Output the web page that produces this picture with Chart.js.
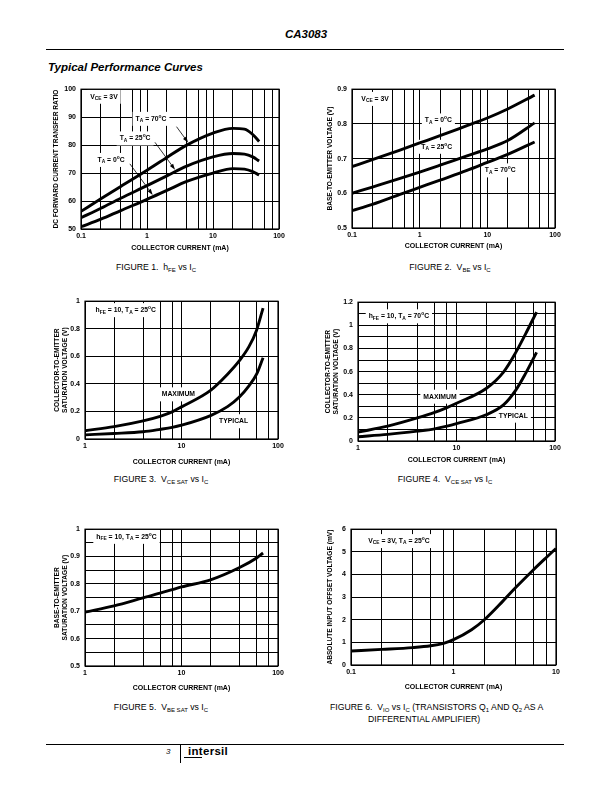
<!DOCTYPE html>
<html>
<head>
<meta charset="utf-8">
<title>CA3083 Typical Performance Curves</title>
<script src="https://cdn.jsdelivr.net/npm/chart.js@4.4.1/dist/chart.umd.min.js"></script>
<style>
  html, body { margin: 0; padding: 0; background: #fff; }
  #page { position: relative; width: 612px; height: 792px; overflow: hidden;
          font-family: "Liberation Sans", Arial, sans-serif; color: #000; }
  #page canvas { position: absolute; }
  .txt { position: absolute; white-space: nowrap; line-height: 12px; }
  .rule { position: absolute; background: #000; }
  .cap { font-size: 8.7px; color: #000; }
  .cap sub { font-size: 6px; vertical-align: -2px; line-height: 0; }
</style>
</head>
<body>
<div id="page">
  <div class="txt" style="left:0;top:27px;width:612px;text-align:center;font:italic bold 11.5px/14px 'Liberation Sans';">CA3083</div>
  <div class="rule" style="left:46px;top:49px;width:518px;height:1px;"></div>
  <div class="txt" style="left:48px;top:60px;font:italic bold 11.5px/14px 'Liberation Sans';">Typical Performance Curves</div>

  <div class="txt cap" style="left:56px;width:200px;top:261px;text-align:center;">FIGURE 1.&nbsp; h<sub>FE</sub> vs I<sub>C</sub></div>
  <div class="txt cap" style="left:350px;width:200px;top:261px;text-align:center;">FIGURE 2.&nbsp; V<sub>BE</sub> vs I<sub>C</sub></div>
  <div class="txt cap" style="left:61px;width:200px;top:473px;text-align:center;">FIGURE 3.&nbsp; V<sub>CE SAT</sub> vs I<sub>C</sub></div>
  <div class="txt cap" style="left:345px;width:200px;top:473px;text-align:center;">FIGURE 4.&nbsp; V<sub>CE SAT</sub> vs I<sub>C</sub></div>
  <div class="txt cap" style="left:61px;width:200px;top:701px;text-align:center;">FIGURE 5.&nbsp; V<sub>BE SAT</sub> vs I<sub>C</sub></div>
  <div class="txt cap" style="left:330px;top:701px;">FIGURE 6.&nbsp; V<sub>IO</sub> vs I<sub>C</sub> (TRANSISTORS Q<sub>1</sub> AND Q<sub>2</sub> AS A</div>
  <div class="txt cap" style="left:368px;top:713px;">DIFFERENTIAL AMPLIFIER)</div>

  <div class="rule" style="left:46px;top:744px;width:518px;height:1px;"></div>
  <div class="txt" style="left:166px;top:746px;font:italic 8px/12px 'Liberation Sans';">3</div>
  <div class="rule" style="left:180px;top:745px;width:1px;height:18px;"></div>
  <div class="txt" style="left:188px;top:744px;font:bold 11.5px/14px 'Liberation Sans';letter-spacing:0.3px;">intersil</div>
  <div class="rule" style="left:184px;top:757px;width:18px;height:1px;"></div>
</div>

<script>
// Figure 1: hFE vs IC
const fig1Current = [0.1, 0.2, 0.4, 1, 2, 4, 10, 20, 30, 40, 50];
const fig1Hfe70 = [56.3, 60.8, 65.2, 71, 75.6, 80, 84.3, 86, 85.7, 83.8, 81.3];
const fig1Hfe25 = [54, 57.4, 61, 65.5, 69, 72.5, 75.8, 77, 76.8, 75.8, 74.3];
const fig1Hfe0 = [50.8, 53.5, 56.6, 60.6, 63.8, 67, 70, 71.6, 71.4, 70.5, 69.3];

// Figure 2: VBE vs IC
const fig2Current = [0.1, 0.2, 0.5, 1, 2, 5, 10, 20, 50];
const fig2Vbe0 = [0.677, 0.697, 0.724, 0.745, 0.766, 0.795, 0.817, 0.843, 0.883];
const fig2Vbe25 = [0.6, 0.618, 0.642, 0.661, 0.681, 0.708, 0.728, 0.752, 0.803];
const fig2Vbe70 = [0.55, 0.568, 0.596, 0.617, 0.638, 0.666, 0.689, 0.712, 0.748];

// Figure 3: VCE SAT vs IC, TA = 25C
const fig3Current = [1, 2, 4, 6, 8, 10, 20, 30, 40, 50, 60, 70];
const fig3Max = [0.06, 0.09, 0.132, 0.165, 0.197, 0.233, 0.353, 0.47, 0.57, 0.67, 0.79, 0.95];
const fig3Typ = [0.03, 0.04, 0.053, 0.07, 0.084, 0.1, 0.17, 0.235, 0.307, 0.386, 0.47, 0.59];

// Figure 4: VCE SAT vs IC, TA = 70C
const fig4Current = [1, 2, 4, 6, 8, 10, 20, 30, 40, 50, 65];
const fig4Max = [0.077, 0.128, 0.199, 0.247, 0.289, 0.326, 0.454, 0.596, 0.766, 0.922, 1.115];
const fig4Typ = [0.037, 0.057, 0.085, 0.105, 0.128, 0.15, 0.227, 0.312, 0.44, 0.58, 0.766];

// Figure 5: VBE SAT vs IC
const fig5Current = [1, 2, 4, 6, 8, 10, 20, 40, 60, 70];
const fig5Vbe = [0.697, 0.72, 0.749, 0.766, 0.779, 0.789, 0.815, 0.86, 0.895, 0.913];

// Figure 6: VIO vs IC
const fig6Current = [0.1, 0.2, 0.4, 0.6, 0.8, 1, 1.5, 2, 3, 4, 6, 8, 10];
const fig6Vio = [0.62, 0.69, 0.77, 0.85, 0.96, 1.12, 1.56, 2.0, 2.8, 3.4, 4.2, 4.74, 5.15];

// Grid lines and tick labels
const currentGridA = [0.1, 0.2, 0.4, 0.6, 0.8, 1, 2, 4, 6, 8, 10, 20, 40, 60, 80, 100];
const currentGridB = [1, 2, 4, 6, 8, 10, 20, 40, 60, 80, 100];
const currentGridC = [0.1, 0.2, 0.4, 0.6, 0.8, 1, 2, 4, 6, 8, 10];
const currentLabels = [0.1, 1, 10, 100];

const fig1YTicks = [50, 60, 70, 80, 90, 100];
const fig2YTicks = [0.5, 0.6, 0.7, 0.8, 0.9];
const fig3YTicks = [0, 0.2, 0.4, 0.6, 0.8, 1];
const fig4YTicks = [0, 0.1, 0.2, 0.3, 0.4, 0.5, 0.6, 0.7, 0.8, 0.9, 1, 1.1, 1.2];
const fig4YLabels = [0, 0.2, 0.4, 0.6, 0.8, 1, 1.2];
const fig5YTicks = [0.5, 0.55, 0.6, 0.65, 0.7, 0.75, 0.8, 0.85, 0.9, 0.95, 1];
const fig5YLabels = [0.5, 0.6, 0.7, 0.8, 0.9, 1];
const fig6YTicks = [0, 1, 2, 3, 4, 5, 6];

const xTitle = 'COLLECTOR CURRENT (mA)';
const page = document.getElementById('page');
const FONT = '"Liberation Sans", Arial, sans-serif';

Chart.defaults.font.family = FONT;
Chart.defaults.color = '#000';

// text like "V_{CE} = 3V" or "25^{o}C"
function splitRich(text) {
    const parts = [];
    const re = /([_^])\{([^}]*)\}/g;
    let last = 0, m;
    while ((m = re.exec(text))) {
        if (m.index > last) parts.push({ t: text.slice(last, m.index), k: '' });
        parts.push({ t: m[2], k: m[1] });
        last = re.lastIndex;
    }
    if (last < text.length) parts.push({ t: text.slice(last), k: '' });
    return parts;
}

function drawRich(ctx, text, cx, cy, size) {
    const parts = splitRich(text);
    const fnt = k => 'bold ' + (k ? size * 0.72 : size) + 'px ' + FONT;
    let w = 0;
    parts.forEach(p => { ctx.font = fnt(p.k); p.w = ctx.measureText(p.t).width; w += p.w; });
    ctx.fillStyle = '#fff';
    ctx.fillRect(cx - w / 2 - 3, cy - 7, w + 6, 14);
    ctx.fillStyle = '#000';
    ctx.textAlign = 'left';
    ctx.textBaseline = 'middle';
    let x = cx - w / 2;
    parts.forEach(p => {
        ctx.font = fnt(p.k);
        const dy = p.k === '_' ? size * 0.3 : (p.k === '^' ? -size * 0.38 : 0);
        ctx.fillText(p.t, x, cy + dy);
        x += p.w;
    });
}

function notesPlugin(notes) {
    return {
        id: 'notes',
        beforeDatasetsDraw(chart) {
            const { ctx, chartArea: a, scales: { x, y } } = chart;
            ctx.save();
            notes.forEach(n => {
                drawRich(ctx, n.text, x.getPixelForValue(n.x), y.getPixelForValue(n.y), 6.8);
            });
            ctx.strokeStyle = '#000';
            ctx.lineWidth = 1.2;
            ctx.strokeRect(a.left, a.top, a.right - a.left, a.bottom - a.top);
            ctx.restore();
        },
        afterDatasetsDraw(chart) {
            const { ctx, scales: { x, y } } = chart;
            ctx.save();
            ctx.strokeStyle = '#000';
            ctx.fillStyle = '#000';
            ctx.lineWidth = 0.8;
            notes.filter(n => n.arrow).forEach(n => {
                const x1 = x.getPixelForValue(n.arrow[0]), y1 = y.getPixelForValue(n.arrow[1]);
                const x2 = x.getPixelForValue(n.arrow[2]), y2 = y.getPixelForValue(n.arrow[3]);
                const ang = Math.atan2(y2 - y1, x2 - x1);
                ctx.beginPath();
                ctx.moveTo(x1, y1);
                ctx.lineTo(x2 - 4 * Math.cos(ang), y2 - 4 * Math.sin(ang));
                ctx.stroke();
                ctx.beginPath();
                ctx.moveTo(x2, y2);
                ctx.lineTo(x2 - 6 * Math.cos(ang) + 2 * Math.sin(ang), y2 - 6 * Math.sin(ang) - 2 * Math.cos(ang));
                ctx.lineTo(x2 - 6 * Math.cos(ang) - 2 * Math.sin(ang), y2 - 6 * Math.sin(ang) + 2 * Math.cos(ang));
                ctx.closePath();
                ctx.fill();
            });
            ctx.restore();
        }
    };
}

function curve(xs, ys) {
    return {
        data: xs.map((v, i) => ({ x: v, y: ys[i] })),
        borderColor: '#000',
        borderWidth: 2.9,
        pointRadius: 0,
        cubicInterpolationMode: 'monotone',
        fill: false
    };
}

function pick(labels) {
    return v => labels.some(l => Math.abs(l - v) < 1e-9) ? String(v) : '';
}

// box: frame edges on the page, yw = y axis width, xh = x axis height
function makeChart(box, xCfg, yCfg, datasets, notes) {
    const topPad = 8, rightPad = 12, bottomPad = 2;
    const w = box.yw + (box.R - box.L) + rightPad;
    const h = topPad + (box.B - box.T) + box.xh + bottomPad;
    const canvas = document.createElement('canvas');
    canvas.width = w;
    canvas.height = h;
    canvas.style.left = (box.L - box.yw) + 'px';
    canvas.style.top = (box.T - topPad) + 'px';
    canvas.style.width = w + 'px';
    canvas.style.height = h + 'px';
    page.appendChild(canvas);

    const tickFont = { size: 7, weight: 'bold' };
    new Chart(canvas, {
        type: 'line',
        data: { datasets: datasets },
        options: {
            responsive: false,
            animation: false,
            events: [],
            layout: { padding: { top: topPad, right: rightPad, bottom: bottomPad, left: 0 } },
            plugins: { legend: { display: false }, tooltip: { enabled: false } },
            scales: {
                x: {
                    type: 'logarithmic',
                    min: xCfg.grid[0],
                    max: xCfg.grid[xCfg.grid.length - 1],
                    afterBuildTicks: s => { s.ticks = xCfg.grid.map(v => ({ value: v })); },
                    afterFit: s => { s.height = box.xh; },
                    ticks: { autoSkip: false, maxRotation: 0, padding: 3, font: tickFont, callback: pick(currentLabels) },
                    grid: { color: '#000', lineWidth: 1, drawTicks: false },
                    border: { display: false },
                    title: { display: true, text: xTitle, padding: 0, font: { size: 7, weight: 'bold', lineHeight: 1.2 } }
                },
                y: {
                    type: 'linear',
                    min: yCfg.grid[0],
                    max: yCfg.grid[yCfg.grid.length - 1],
                    afterBuildTicks: s => { s.ticks = yCfg.grid.map(v => ({ value: v })); },
                    afterFit: s => { s.width = box.yw; },
                    ticks: { autoSkip: false, padding: 5, font: tickFont, callback: pick(yCfg.labels) },
                    grid: { color: '#000', lineWidth: 1, drawTicks: false },
                    border: { display: false },
                    title: { display: true, text: yCfg.title, padding: 0, font: { size: 6.6, weight: 'bold', lineHeight: 1.2 } }
                }
            }
        },
        plugins: [notesPlugin(notes)]
    });
}

// Figure 1
makeChart({ L: 81, R: 279, T: 88, B: 229, yw: 29, xh: 23 },
    { grid: currentGridA },
    { grid: fig1YTicks, labels: fig1YTicks, title: 'DC FORWARD CURRENT TRANSFER RATIO' },
    [curve(fig1Current, fig1Hfe70), curve(fig1Current, fig1Hfe25), curve(fig1Current, fig1Hfe0)],
    [
        { text: 'V_{CE} = 3V', x: 0.223, y: 97.3 },
        { text: 'T_{A} = 70^{o}C', x: 1.15, y: 89.4, arrow: [2.8, 86.6, 4.2, 80.9] },
        { text: 'T_{A} = 25^{o}C', x: 0.66, y: 82.4, arrow: [1.32, 81, 2.66, 71.2] },
        { text: 'T_{A} = 0^{o}C', x: 0.285, y: 74.7, arrow: [0.55, 73.3, 1.22, 62.2] }
    ]);

// Figure 2
makeChart({ L: 352, R: 555, T: 88, B: 228, yw: 26, xh: 22 },
    { grid: currentGridA },
    { grid: fig2YTicks, labels: fig2YTicks, title: 'BASE-TO-EMITTER VOLTAGE (V)' },
    [curve(fig2Current, fig2Vbe0), curve(fig2Current, fig2Vbe25), curve(fig2Current, fig2Vbe70)],
    [
        { text: 'V_{CE} = 3V', x: 0.219, y: 0.872 },
        { text: 'T_{A} = 0^{o}C', x: 1.89, y: 0.81 },
        { text: 'T_{A} = 25^{o}C', x: 1.79, y: 0.734 },
        { text: 'T_{A} = 70^{o}C', x: 15.5, y: 0.666 }
    ]);

// Figure 3
makeChart({ L: 85, R: 278, T: 300, B: 439, yw: 32, xh: 27 },
    { grid: currentGridB },
    { grid: fig3YTicks, labels: fig3YTicks, title: ['COLLECTOR-TO-EMITTER', 'SATURATION VOLTAGE (V)'] },
    [curve(fig3Current, fig3Max), curve(fig3Current, fig3Typ)],
    [
        { text: 'h_{FE} = 10, T_{A} = 25^{o}C', x: 2.64, y: 0.935 },
        { text: 'MAXIMUM', x: 9.29, y: 0.324 },
        { text: 'TYPICAL', x: 34.7, y: 0.129 }
    ]);

// Figure 4
makeChart({ L: 358, R: 555, T: 301, B: 441, yw: 34, xh: 23 },
    { grid: currentGridB },
    { grid: fig4YTicks, labels: fig4YLabels, title: ['COLLECTOR-TO-EMITTER', 'SATURATION VOLTAGE (V)'] },
    [curve(fig4Current, fig4Max), curve(fig4Current, fig4Typ)],
    [
        { text: 'h_{FE} = 10, T_{A} = 70^{o}C', x: 2.6, y: 1.078 },
        { text: 'MAXIMUM', x: 6.79, y: 0.383 },
        { text: 'TYPICAL', x: 37.8, y: 0.219 }
    ]);

// Figure 5
makeChart({ L: 85, R: 278, T: 528, B: 666, yw: 32, xh: 26 },
    { grid: currentGridB },
    { grid: fig5YTicks, labels: fig5YLabels, title: ['BASE-TO-EMITTER', 'SATURATION VOLTAGE (V)'] },
    [curve(fig5Current, fig5Vbe)],
    [
        { text: 'h_{FE} = 10, T_{A} = 25^{o}C', x: 2.69, y: 0.972 }
    ]);

// Figure 6
makeChart({ L: 351, R: 556, T: 528, B: 665, yw: 25, xh: 26 },
    { grid: currentGridC },
    { grid: fig6YTicks, labels: fig6YTicks, title: 'ABSOLUTE INPUT OFFSET VOLTAGE (mV)' },
    [curve(fig6Current, fig6Vio)],
    [
        { text: 'V_{CE} = 3V, T_{A} = 25^{o}C', x: 0.294, y: 5.475 }
    ]);
</script>
</body>
</html>
